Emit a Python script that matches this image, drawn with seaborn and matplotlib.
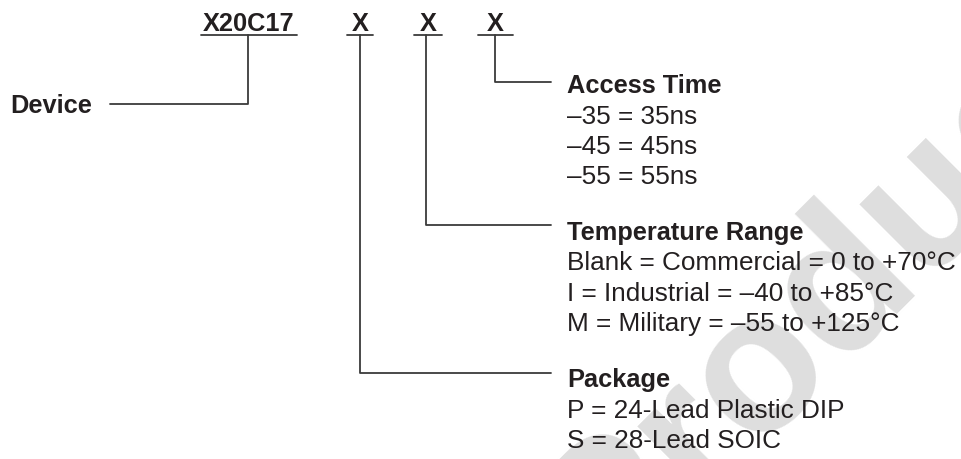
import numpy as np
import pandas as pd
import matplotlib.pyplot as plt
import seaborn as sns

# ordering code fields, left to right
code_fields = ['X20C17', 'X', 'X', 'X']
device_label = 'Device'

# option groups, top to bottom on the right
group_titles = ['Access Time', 'Temperature Range', 'Package']
access_opts = ['\u201335 = 35ns', '\u201345 = 45ns', '\u201355 = 55ns']
temp_opts = ['Blank = Commercial = 0 to +70\u00b0C',
             'I = Industrial = \u201340 to +85\u00b0C',
             'M = Military = \u201355 to +125\u00b0C']
pkg_opts = ['P = 24-Lead Plastic DIP', 'S = 28-Lead SOIC']
watermark = 'Product'

# layout (pixel space of the 961x459 canvas)
W, H = 961, 459
field_x0 = [201, 347, 414, 478]
field_x1 = [297, 373, 442, 513]
field_drop = [248, 360, 426, 495]
code_base = 31
underline_y = 35
group_base = [93, 240, 387]
group_line = [82, 225, 373]
group_of_field = [None, 2, 1, 0]   # which group each X points to
text_x = 567
lead_end = 551
line_gap = 30.5
device_x, device_base, device_line = 10, 113, 104
device_line_x0 = 110

ink = '#231f20'
wire = '#3a3a3a'
fs_bold = 18.3
fs_body = 18.8

sns.set_theme(style='white')
plt.rcParams['font.family'] = ['Liberation Sans', 'DejaVu Sans']

fig = plt.figure(figsize=(W / 100, H / 100), dpi=100)
ax = fig.add_axes([0, 0, 1, 1])

# faint diagonal watermark behind everything
ax.text(868, 330, watermark, fontsize=141, fontweight='bold', color='#dedede',
        rotation=45, rotation_mode='anchor', ha='center', va='baseline', zorder=0)

# connector segments as a long table, drawn with seaborn
segs = []
for i, name in enumerate(code_fields):
    segs.append((f'u{i}', field_x0[i], underline_y))
    segs.append((f'u{i}', field_x1[i], underline_y))
    g = group_of_field[i]
    if g is None:
        ends = [(field_drop[i], underline_y), (field_drop[i], device_line),
                (device_line_x0, device_line)]
    else:
        ends = [(field_drop[i], underline_y), (field_drop[i], group_line[g]),
                (lead_end, group_line[g])]
    for x, y in ends:
        segs.append((f'c{i}', x, y))
seg_df = pd.DataFrame(segs, columns=['seg', 'x', 'y'])
sns.lineplot(data=seg_df, x='x', y='y', units='seg', estimator=None, sort=False,
             color=wire, lw=1.3, ax=ax, legend=False, zorder=2)
ax.set_xlim(0, W)
ax.set_ylim(H, 0)
ax.axis('off')

# code fields above the underlines
for i, name in enumerate(code_fields):
    ax.text((field_x0[i] + field_x1[i]) / 2, code_base, name, fontsize=fs_bold,
            fontweight='bold', color=ink, ha='center', va='baseline', zorder=3)

ax.text(device_x, device_base, device_label, fontsize=fs_bold, fontweight='bold',
        color=ink, ha='left', va='baseline', zorder=3)

for title, opts, base in zip(group_titles, [access_opts, temp_opts, pkg_opts], group_base):
    ax.text(text_x, base, title, fontsize=fs_bold, fontweight='bold', color=ink,
            ha='left', va='baseline', zorder=3)
    for k, line in enumerate(opts):
        ax.text(text_x, base + (k + 1) * line_gap, line, fontsize=fs_body, color=ink,
                ha='left', va='baseline', zorder=3)

fig.savefig('out.png', dpi=100, facecolor='white')
